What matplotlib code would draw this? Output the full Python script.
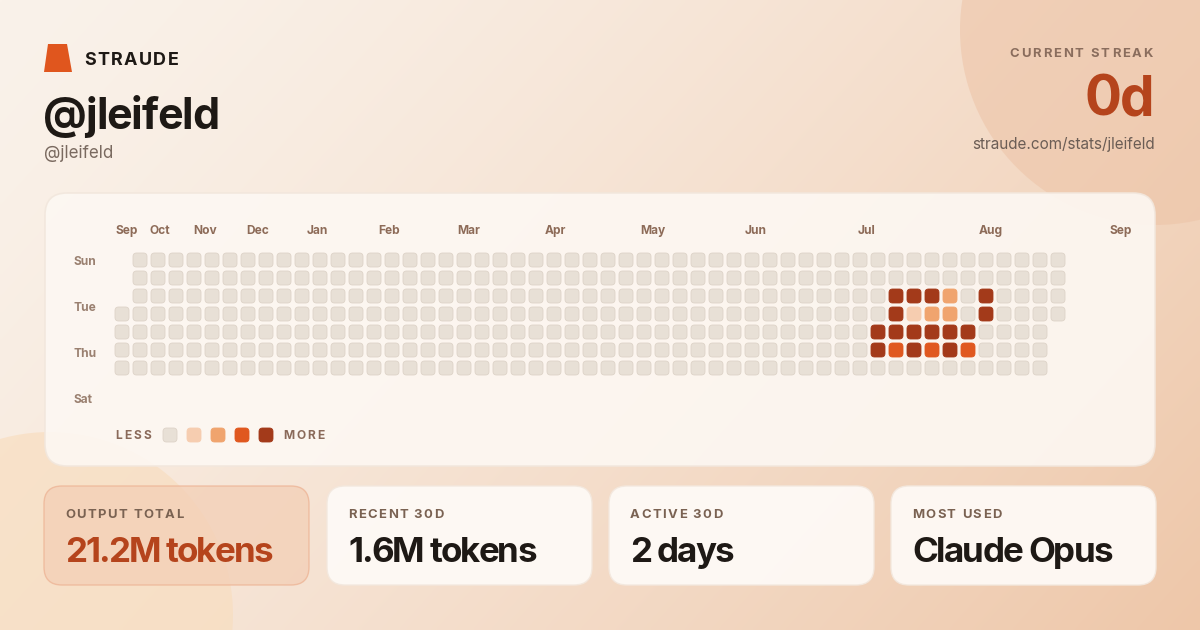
import matplotlib
matplotlib.use('Agg')
import matplotlib.pyplot as plt
from matplotlib.patches import FancyBboxPatch, Circle, Polygon
from matplotlib.font_manager import FontProperties
from matplotlib.colors import to_rgb
import numpy as np

# ---------------- data ----------------
username = "@jleifeld"
brand = "STRAUDE"
streak_label = "CURRENT STREAK"
streak_value = "0d"
profile_url = "straude.com/stats/jleifeld"

months = ['Sep', 'Oct', 'Nov', 'Dec', 'Jan', 'Feb', 'Mar', 'Apr', 'May', 'Jun', 'Jul', 'Aug', 'Sep']
weekday_labels = ['Sun', 'Tue', 'Thu', 'Sat']

n_days = 365
first_weekday = 3  # first day of the year-long grid falls on Wednesday (Sun = 0)
active_week = [43, 44, 45, 46, 48, 43, 44, 45, 46, 48, 42, 43, 44, 45, 46, 47, 42, 43, 44, 45, 46, 47]
active_day = [2, 2, 2, 2, 2, 3, 3, 3, 3, 3, 4, 4, 4, 4, 4, 4, 5, 5, 5, 5, 5, 5]
active_level = [4, 4, 4, 2, 4, 4, 1, 2, 2, 4, 4, 4, 4, 4, 4, 4, 4, 3, 4, 3, 4, 3]

stat_labels = ['OUTPUT TOTAL', 'RECENT 30D', 'ACTIVE 30D', 'MOST USED']
stat_values = ['21.2M tokens', '1.6M tokens', '2 days', 'Claude Opus']

level_colors = ['#E8E0D6', '#F6CDB0', '#F0A46E', '#E0581F', '#A33A1A']

# ---------------- layout ----------------
W, H = 1200, 630
fig = plt.figure(figsize=(12, 6.3), dpi=100)
bg = fig.add_axes([0, 0, 1, 1])
bg.set_xlim(0, W)
bg.set_ylim(H, 0)
bg.axis('off')

# background gradient
c0 = np.array(to_rgb('#FAF2EA'))
c1 = np.array(to_rgb('#EEC7A9'))
xx, yy = np.meshgrid(np.linspace(0, 1, 300), np.linspace(0, 1, 160))
t = np.clip(0.68 * xx + 0.32 * yy, 0, 1) ** 1.35
img = c0[None, None, :] * (1 - t[..., None]) + c1[None, None, :] * t[..., None]
bg.imshow(img, extent=[0, W, H, 0], aspect='auto', zorder=0, interpolation='bilinear')
bg.set_xlim(0, W)
bg.set_ylim(H, 0)

bg.add_patch(Circle((1155, 30), 195, fc='#EDC3A6', ec='none', alpha=0.55, zorder=1))
bg.add_patch(Circle((50, 615), 183, fc='#F8DDBE', ec='none', alpha=0.65, zorder=1))

renderer = fig.canvas.get_renderer()
FONT = 'Inter'


def txt(x, yc, s, size_px, color, weight='bold', ha='left', spacing=0.0, z=5):
    fp = FontProperties(family=FONT, weight=weight, size=size_px * 0.72)
    base = yc + 0.727 * size_px / 2
    if spacing == 0:
        bg.text(x, base, s, fontproperties=fp, color=color, ha=ha, va='baseline', zorder=z)
        return

    def w(u):
        return renderer.get_text_width_height_descent(u, fp, ismath=False)[0]
    ref = w('|')
    offs = [w(s[:i] + '|') - ref for i in range(len(s))]
    total = w(s) + spacing * (len(s) - 1)
    start = x - total if ha == 'right' else x
    for i, ch in enumerate(s):
        if ch == ' ':
            continue
        bg.text(start + offs[i] + i * spacing, base, ch, fontproperties=fp, color=color,
                ha='left', va='baseline', zorder=z)


# header
bg.add_patch(Polygon([(48, 44), (67, 44), (72, 72), (44, 72)], closed=True, fc='#E0561E', ec='none', zorder=5))
txt(84, 58, brand, 18, '#1E1915', spacing=1.4)
txt(43, 113, username, 43, '#1E1915', spacing=-1.2)
txt(44, 152, username, 17, '#7A6A60', weight='normal')

txt(1153, 52, streak_label, 13, '#8A6D5D', ha='right', spacing=1.95)
txt(1155, 96, streak_value, 55, '#B5441C', ha='right', spacing=-1.5)
txt(1155, 143, profile_url, 15.3, '#6B5D55', weight='normal', ha='right')

# main card
bg.add_patch(FancyBboxPatch((45, 193), 1110, 273, boxstyle='round,pad=0,rounding_size=22',
                            fc='#FDF8F3', ec='#F2E7DD', lw=1.2, alpha=0.9, zorder=2))

# month labels (left edges in px) and weekday labels
month_x = [115, 150, 193, 246, 307, 378, 457, 545, 640, 745, 858, 979, 1110]
for m, mx in zip(months, month_x):
    txt(mx, 230, m, 12, '#8D6B58')
for lab, ly in zip(weekday_labels, [261, 307, 353, 399]):
    txt(73, ly, lab, 12, '#9A8070')

# heatmap axes
hm = fig.add_axes([113 / W, 1 - 377 / H, 954 / W, 126 / H])
hm.set_xlim(-0.5, 52.5)
hm.set_ylim(6.5, -0.5)
hm.axis('off')
hm.patch.set_alpha(0)

levels = {}
for wk, d, lv in zip(active_week, active_day, active_level):
    levels[(wk, d)] = lv

cs = 14 / 18
rs = 3.6 / 18
for i in range(n_days):
    idx = i + first_weekday
    wk, d = idx // 7, idx % 7
    lv = levels.get((wk, d), 0)
    ec = '#DDD3C8' if lv == 0 else level_colors[lv]
    hm.add_patch(FancyBboxPatch((wk - cs / 2, d - cs / 2), cs, cs,
                                boxstyle=f'round,pad=0,rounding_size={rs}',
                                fc=level_colors[lv], ec=ec, lw=0.6))

# legend
txt(115, 435, 'LESS', 12, '#8A6A5A', spacing=2.2)
for k, col in enumerate(level_colors):
    x0 = 163 + 24 * k
    bg.add_patch(FancyBboxPatch((x0, 428), 14, 14, boxstyle='round,pad=0,rounding_size=3.6',
                                fc=col, ec='#DDD3C8' if k == 0 else col, lw=0.6, zorder=5))
txt(283, 435, 'MORE', 12, '#8A6A5A', spacing=2.2)

# stat cards
card_x = [44, 327, 609, 891]
for k, (lab, val) in enumerate(zip(stat_labels, stat_values)):
    x0 = card_x[k]
    if k == 0:
        fc, ec, vc, al = '#F3CFB6', '#EDB394', '#B5441C', 0.75
    else:
        fc, ec, vc, al = '#FEFAF6', '#F3E8DE', '#1E1915', 0.95
    bg.add_patch(FancyBboxPatch((x0, 486), 265, 99, boxstyle='round,pad=0,rounding_size=18',
                                fc=fc, ec=ec, lw=1.0, alpha=al, zorder=3))
    txt(x0 + 21, 513, lab, 13, '#7A6252', spacing=1.45)
    txt(x0 + 21, 549, val, 35, vc, spacing=-1.8)

fig.savefig('out.png', dpi=100)
